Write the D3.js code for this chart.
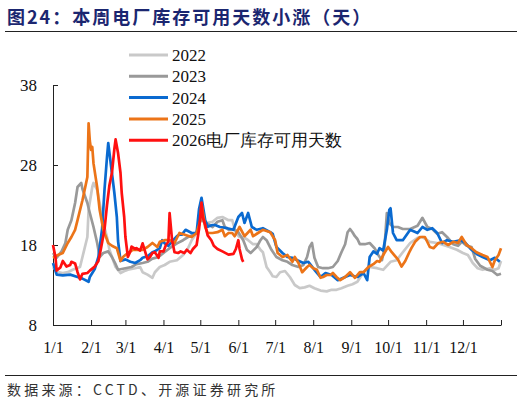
<!DOCTYPE html>
<html>
<head>
<meta charset="utf-8">
<script src="https://cdn.jsdelivr.net/npm/d3@7"></script>
<style>
  body { margin: 0; background: #fff; }
  svg { display: block; }
  .serif { font-family: "Liberation Serif", "Times New Roman", "DejaVu Serif", serif; }
</style>
</head>
<body>
<svg id="chart"></svg>
<script>
// 数据：[一年中的第几天, 可用天数]
const s2022 = [[0,15.25],[4,14.6],[8,14.5],[12,14.6],[16,14.9],[22,15.25],[24,16.5],[28,19],[29,22.4],[32,25.25],[33,25.75],[36,24.9],[38,23.25],[41,20.75],[44,19],[46,17.4],[51,15.25],[55,14.5],[59,14.8],[61,14.9],[67,15.1],[71,15.25],[73,14.6],[77,14.3],[81,13.9],[83,14.6],[87,15.25],[91,15.5],[95,15.9],[101,16.1],[106,16.75],[110,17.6],[113,18.6],[117,19.5],[121,21.5],[125,20.75],[130,20.9],[134,21.4],[138,21.5],[143,21.1],[146,21.1],[149,19.5],[152,19],[155,19],[159,18.6],[163,18.1],[166,18.1],[169,17.4],[171,17.1],[174,15.25],[177,14.6],[179,14.1],[182,14],[185,14.6],[189,14.75],[193,14],[197,13],[201,12.6],[205,12.7],[209,12.9],[213,12.6],[218,12.3],[223,12.2],[227,12.4],[231,12.4],[235,12.6],[240,12.9],[244,13.1],[248,13.4],[253,14.6],[258,15.25],[264,15.1],[269,14.9],[275,15.9],[280,16.1],[285,17.1],[291,18.25],[297,18.9],[301,19],[307,18.4],[313,18.25],[318,18],[323,17.75],[329,17.4],[334,17],[338,16.75],[342,15.75],[346,15.1],[350,14.9],[356,15.1],[360,14.9],[363,15.1],[365,16]];

const s2023 = [[0,17],[3,16.4],[7,17.2],[10,18.2],[12,19.9],[15,21.1],[18,23.25],[20,25.25],[23,25.75],[24,25],[28,23.25],[30,22],[33,20.25],[36,18.25],[38,16.5],[41,17],[45,17.2],[48,16.5],[51,15.6],[53,14.9],[59,15.1],[64,15.25],[68,15.6],[73,15.75],[77,15.9],[81,16.3],[86,16.5],[90,17],[95,17.6],[101,18.2],[106,18.6],[110,19],[113,19.2],[117,19.5],[120,21.5],[122,21],[125,20.75],[130,20.25],[134,20.9],[138,21.1],[140,20.25],[143,19.9],[147,20],[151,19.6],[155,18.6],[158,17.4],[161,17],[163,17.3],[166,17.75],[169,18.6],[171,19],[174,18.6],[178,17.4],[182,16.5],[187,16.1],[191,15.9],[195,15.5],[200,15.25],[204,15.5],[207,16.5],[209,17.75],[211,18.25],[213,16.4],[216,15.25],[220,15.1],[224,15.1],[228,15.25],[232,16],[235,17.1],[238,18.1],[240,19.6],[242,20],[244,19.6],[246,19.1],[248,18.75],[250,18.1],[254,18.1],[258,18.25],[262,17.6],[265,16.75],[268,16.1],[270,17.5],[272,22],[274,20.75],[277,20.25],[281,20.25],[285,20],[291,20],[297,20.4],[301,21.4],[305,20.25],[309,20],[313,19.4],[317,19.6],[321,19],[326,18.1],[330,17.9],[333,18.4],[337,17.9],[341,17.75],[344,16.25],[348,15.4],[354,14.9],[358,14.75],[362,14.25],[365,14.4]];

const s2024 = [[0,15.75],[3,14.3],[8,14.2],[14,14.3],[20,14],[24,13.8],[29,13.4],[30,14],[34,15],[37,16.5],[40,20],[42,25],[44,29],[45,30.75],[46,29.5],[48,27],[50,24.5],[52,21.5],[53,18.5],[55,16],[57,16.1],[59,16.2],[63,15.9],[67,15.75],[71,16.1],[73,16.4],[77,16.6],[81,17.1],[83,17.2],[87,17.6],[89,18.6],[91,18.2],[94,17.9],[98,18.6],[101,19.1],[103,19.3],[105,19.3],[108,19.9],[113,19.5],[117,19.5],[119,22.5],[121,23.9],[122,23],[124,21.1],[126,20.3],[130,20.5],[132,20.5],[136,20.25],[142,20.1],[147,19.9],[151,21.5],[154,22],[156,20.75],[159,22],[162,20.25],[166,19.9],[171,20.1],[177,19.6],[179,19.4],[182,17.75],[187,17],[191,16.5],[195,16.4],[199,16.1],[204,15.75],[208,15.9],[209,15.7],[213,14.9],[218,14],[222,14.5],[227,14.25],[232,13.6],[238,14],[242,14.25],[248,14],[253,14.5],[256,13.6],[258,16.5],[261,17.2],[264,16.9],[266,17.6],[269,17.3],[272,19.9],[274,22.4],[275,22.6],[277,19.5],[280,18.6],[285,18.6],[291,19.9],[297,19.5],[301,20.25],[305,19.9],[309,20.1],[313,19.5],[317,18.25],[321,18.6],[326,18.4],[332,18.6],[336,18.25],[341,17.4],[346,16.8],[350,16.5],[356,16.1],[360,16.4],[364,15.9]];

const s2025 = [[0,16.4],[4,16.75],[8,17],[12,18.25],[15,19],[18,19.9],[20,21.1],[24,23.6],[28,26.5],[29,33.2],[30,31],[31,29.9],[32,30.25],[33,28.2],[36,25.2],[38,22.4],[41,19.9],[45,18.25],[48,17.9],[52,17.6],[55,16],[57,16.5],[61,17],[65,17.4],[69,17.4],[73,17.4],[77,17.75],[81,18.25],[85,17.75],[87,18.4],[91,18.6],[95,18.6],[99,18.25],[103,19.5],[108,19.25],[113,19],[117,19.5],[120,21],[121,23.2],[124,20.25],[126,19.5],[130,19.5],[134,19.6],[138,19.9],[140,19.1],[143,19.5],[146,19.5],[148,19.1],[152,20.25],[156,19.1],[161,19.9],[163,19.1],[167,19.5],[171,19.9],[177,19.6],[181,18.6],[183,17],[187,16.5],[191,16.75],[195,15.9],[197,16.5],[200,15.75],[203,14.6],[207,15.25],[209,15.5],[212,15.1],[215,14.9],[218,13.9],[220,14],[223,14.25],[226,14.25],[228,14.5],[231,14],[234,13.6],[238,14],[242,14.6],[246,13.9],[250,14.6],[253,14.6],[257,15.25],[261,15.6],[264,16],[266,15.9],[270,17],[273,17.75],[276,17.1],[281,16.2],[284,15.3],[287,16],[290,17],[292,17.6],[295,18.4],[299,19],[303,19],[307,17.75],[310,17.6],[314,18.25],[318,18.4],[322,18],[326,18.4],[330,18.25],[333,19],[337,18],[341,17.6],[345,17.1],[350,16.75],[354,16.5],[358,15.25],[360,16.1],[363,16.75],[365,17.6]];

const s2026 = [[0,18],[2,16.5],[3,14.8],[6,15.2],[8,16],[11,15.3],[14,15.5],[15,15.9],[18,15.7],[20,14.6],[22,13.7],[24,14.4],[28,14.5],[30,14.8],[34,15.3],[37,16],[39,17.5],[42,20],[44,23],[46,25.5],[48,27],[50,30],[51,31.2],[53,29.5],[55,27],[56,24.5],[58,21.5],[59,19],[61,16.5],[63,17.2],[64,17.8],[67,17.5],[68,17.6],[71,17.3],[73,18.2],[75,17.2],[77,16.2],[79,16.5],[81,17],[83,17.1],[86,16.4],[87,17.2],[90,17.2],[92,18],[94,18.4],[95,22],[97,18.6],[99,17.1],[102,17],[104,17.2],[107,17],[109,17.4],[112,17],[114,17.5],[117,18],[119,20],[121,23.3],[122,21.5],[124,20.5],[126,19.2],[129,18.6],[131,17.9],[134,17.5],[138,17.2],[143,16.8],[147,16.9],[149,17.5],[151,18.6],[152,17.5],[154,16.2],[155,15.9]];

const seriesNames = ["2022", "2023", "2024", "2025", "2026电厂库存可用天数"];
const seriesColors = ["#c9c9c9", "#999999", "#0a6ad0", "#ec7418", "#ff1010"];
const yTicks = [8, 18, 28, 38];
const xTickLabels = ["1/1","2/1","3/1","4/1","5/1","6/1","7/1","8/1","9/1","10/1","11/1","12/1"];

const W = 522, H = 405;
const svg = d3.select("#chart").attr("width", W).attr("height", H);

// 标题
svg.append("text")
  .attr("x", 7).attr("y", 24)
  .style("font-family", "'Noto Sans CJK SC', sans-serif")
  .style("font-size", "18px")
  .style("font-weight", "bold")
  .style("letter-spacing", "2px")
  .style("fill", "#1b2670")
  .text("图24：本周电厂库存可用天数小涨（天）");

svg.append("line").attr("x1", 5).attr("x2", 517).attr("y1", 31.5).attr("y2", 31.5)
  .attr("stroke", "#222").attr("stroke-width", 1);
svg.append("line").attr("x1", 5).attr("x2", 517).attr("y1", 375.5).attr("y2", 375.5)
  .attr("stroke", "#222").attr("stroke-width", 1);

svg.append("text")
  .attr("x", 7).attr("y", 395)
  .style("font-family", "'Noto Sans CJK SC', sans-serif")
  .style("font-size", "14px")
  .style("letter-spacing", "3.2px")
  .style("fill", "#333")
  .text("数据来源：CCTD、开源证券研究所");

// 比例尺
const base = new Date(2023, 0, 1);
const dayToDate = d => d3.timeDay.offset(base, d);
const x = d3.scaleTime()
  .domain([base, dayToDate(365)])
  .range([53, 501]);
const y = d3.scaleLinear().domain([8, 38]).range([325, 85]);

// 坐标轴
const tickDates = xTickLabels.map(s => {
  const [m, d] = s.split("/").map(Number);
  return new Date(2023, m - 1, d);
});

const xAxis = svg.append("g")
  .attr("transform", "translate(0,325)")
  .call(d3.axisBottom(x)
    .tickValues(tickDates.concat([dayToDate(365)]))
    .tickSizeInner(-5).tickSizeOuter(0)
    .tickFormat((d, i) => xTickLabels[i] || ""));
xAxis.attr("font-family", null);
xAxis.select(".domain").attr("stroke", "#222");
xAxis.selectAll(".tick line").attr("stroke", "#222");
xAxis.selectAll(".tick text")
  .attr("class", "serif")
  .attr("y", 17)
  .attr("font-size", 16)
  .attr("fill", "#111");

const yAxis = svg.append("g")
  .attr("transform", "translate(53,0)")
  .call(d3.axisLeft(y).tickValues(yTicks).tickSizeInner(-5).tickSizeOuter(0));
yAxis.attr("font-family", null);
yAxis.select(".domain").attr("stroke", "#222");
yAxis.selectAll(".tick line").attr("stroke", "#222");
yAxis.selectAll(".tick text")
  .attr("class", "serif")
  .attr("x", -16)
  .attr("font-size", 17)
  .attr("fill", "#111");

// 折线
const line = d3.line()
  .x(d => x(dayToDate(d[0])))
  .y(d => y(d[1]));

[s2022, s2023, s2024, s2025, s2026].forEach((s, i) => {
  svg.append("path")
    .datum(s)
    .attr("fill", "none")
    .attr("stroke", seriesColors[i])
    .attr("stroke-width", 2.7)
    .attr("stroke-linejoin", "round")
    .attr("d", line);
});

// 图例
const legend = svg.append("g");
seriesNames.forEach((name, i) => {
  const ly = 55 + i * 21.3;
  legend.append("line")
    .attr("x1", 129).attr("x2", 168)
    .attr("y1", ly).attr("y2", ly)
    .attr("stroke", seriesColors[i]).attr("stroke-width", 3);
  legend.append("text")
    .attr("class", "serif")
    .attr("x", 172).attr("y", ly + 6)
    .attr("font-size", 17)
    .attr("fill", "#111")
    .text(name);
});
</script>
</body>
</html>
